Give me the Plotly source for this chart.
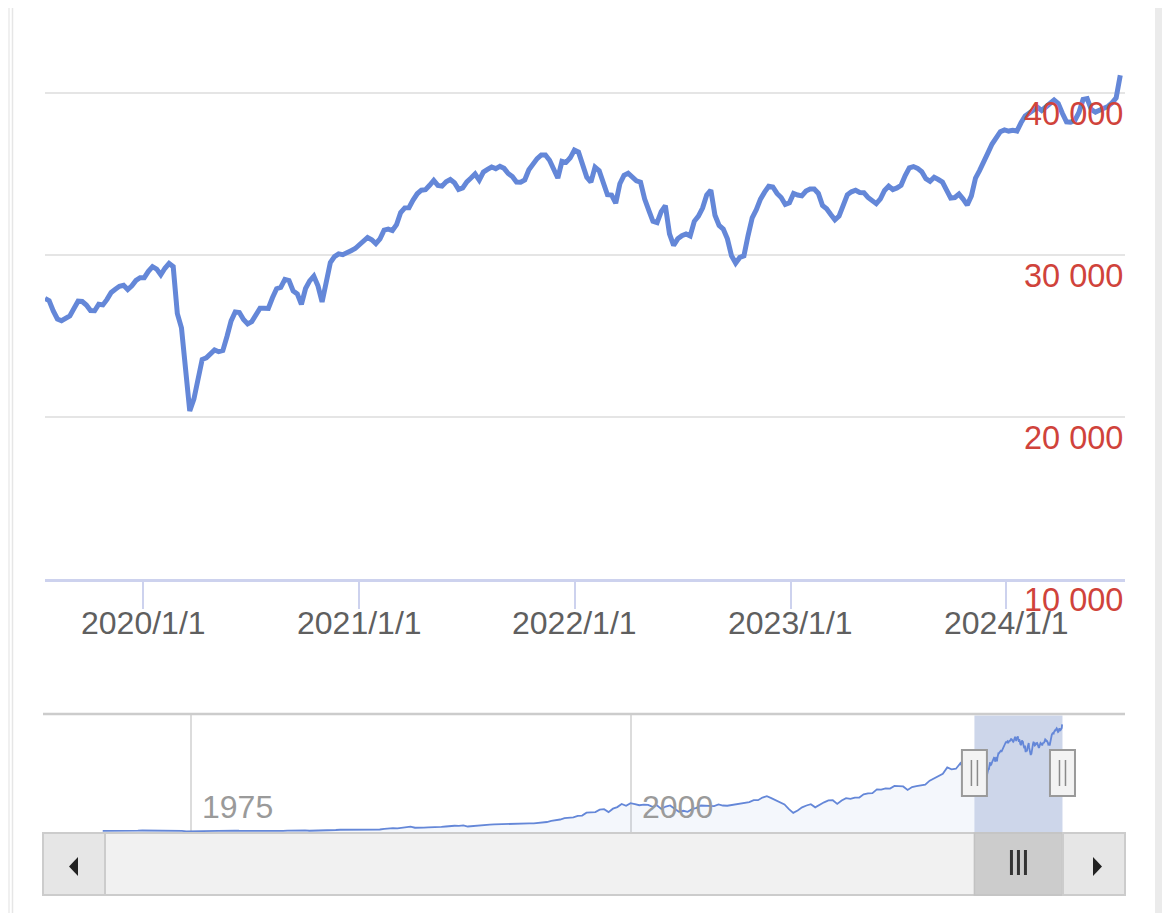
import pandas as pd
import plotly.graph_objects as go

W, H = 1170, 913
OFF = 8  # the page adds an 8px body margin around the figure

# weekly index values, Jul 2019 -> Jul 2024
week_start = "2019-07-19"
weekly_close = [
    27320, 27180, 26550, 26050, 25940, 26090, 26240, 26700, 27150, 27130,
    26910, 26570, 26560, 26960, 26920, 27260, 27690, 27890, 28070, 28130,
    27870, 28100, 28430, 28600, 28600, 28990, 29280, 29130, 28780, 29180,
    29480, 29280, 26380, 25500, 22700, 20370, 21100, 22300, 23550, 23650,
    23850, 24140, 24030, 24100, 24970, 25930, 26480, 26450, 26020, 25750,
    25890, 26310, 26710, 26720, 26700, 27360, 27920, 28000, 28490, 28420,
    27780, 27600, 26950, 27930, 28400, 28690, 28100, 27100, 28350, 29530,
    29900, 30070, 30020, 30190, 30270, 30400, 30640, 30930, 31080, 30940,
    30700, 31000, 31530, 31600, 31510, 31870, 32620, 32910, 32920, 33390,
    33780, 34000, 34030, 34300, 34600, 34300, 34250, 34520, 34660, 34460,
    34050, 34140, 34520, 34750, 35000, 34620, 35120, 35280, 35430, 35330,
    35470, 35350, 35030, 34840, 34500, 34490, 34630, 35260, 35650, 35950,
    36180, 36180, 35850, 35350, 34750, 35780, 35720, 36000, 36480, 36350,
    35680, 34800, 34500, 35420, 35200, 34400, 33720, 33700, 33200, 34400,
    34920, 35050, 34780, 34580, 34500, 33450, 32750, 32080, 32000, 32680,
    33050, 31300, 30600, 31000, 31190, 31300, 31180, 32080, 32400, 32900,
    33700, 34000, 32450, 31820, 31600, 31000, 29950, 29500, 29850, 29950,
    31200, 32300, 32800, 33450, 33880, 34240, 34200, 33800, 33550, 33120,
    33220, 33800, 33700, 33650, 33950, 34070, 34070, 33800, 33050, 32850,
    32500, 32170, 32400, 33180, 33720, 33900, 34000, 33860, 33850, 33550,
    33350, 33170, 33460, 33980, 34250, 34040, 34140, 34300, 34900, 35380,
    35460, 35350, 35140, 34710, 34550, 34800, 34660, 34500, 34000, 33520,
    33550, 33760, 33450, 33080, 33650, 34750, 35220, 35690, 36300, 36850,
    37290, 37610, 37720, 37650, 37700, 37650, 38160, 38580, 38770, 38960,
    39120, 38920, 39100, 39350, 39570, 39350, 38750, 38220, 38200, 38300,
    38800, 39600, 39650, 38980, 38820, 38930, 39030, 39170, 39390, 39700,
    41100,
]

# quarterly values for the overview strip, 1970 -> mid 2019
history_start = "1970-01-01"
history_quarterly = [
    800, 785, 700, 760, 840, 900, 890, 890, 890, 940, 930, 960,
    1020, 950, 890, 950, 850, 850, 800, 620, 650, 770, 870, 800,
    860, 990, 1000, 970, 1000, 920, 910, 850, 830, 760, 820, 870,
    820, 860, 840, 880, 840, 820, 870, 950, 950, 1000, 980, 850,
    870, 830, 810, 900, 1050, 1130, 1220, 1230, 1250, 1160, 1130, 1200,
    1210, 1270, 1330, 1330, 1550, 1820, 1880, 1770, 1900, 2300, 2420, 1990,
    1930, 2000, 2130, 2100, 2170, 2300, 2450, 2700, 2750, 2700, 2900, 2450,
    2630, 2910, 2980, 3020, 3170, 3240, 3320, 3270, 3300, 3440, 3520, 3560,
    3750, 3630, 3650, 3840, 3830, 4160, 4560, 4790, 5100, 5600, 5650, 5900,
    6450, 6600, 7700, 7900, 7900, 8800, 9000, 7900, 9200, 9800, 11000, 10300,
    11300, 10900, 10500, 10700, 10600, 9900, 10500, 9100, 10000, 10400, 9200, 8000,
    8400, 8000, 9000, 9500, 10400, 10400, 10400, 10200, 10800, 10400, 10300, 10600,
    10800, 11100, 11200, 11700, 12400, 12400, 13400, 13900, 13200, 12300, 11400, 10800,
    9000, 7600, 8500, 9700, 10400, 10900, 9700, 10800, 11600, 12300, 12400, 11000,
    12300, 13200, 12900, 13400, 13400, 14600, 15000, 15100, 16500, 16400, 16900, 16800,
    17800, 17700, 17600, 16300, 17400, 17700, 17900, 18300, 19800, 20700, 21400, 22400,
    24800, 24100, 24300, 26400, 23300, 25900, 26600,
]

x_tick_dates = ["2020-01-01", "2021-01-01", "2022-01-01", "2023-01-01", "2024-01-01"]
x_tick_text = ["2020/1/1", "2021/1/1", "2022/1/1", "2023/1/1", "2024/1/1"]
y_ticks = [10000, 20000, 30000, 40000]
nav_years = ["1975-01-01", "2000-01-01"]
nav_year_text = ["1975", "2000"]

view_start, view_end = "2019-07-19", "2024-07-20"
nav_start, nav_end = "1966-08-10", "2028-02-08"

BLUE = "#6487d8"
AXIS = "#cdd2ee"
RED = "#d0433b"
FONT = "Liberation Sans, Arial, sans-serif"

weekly_dates = pd.date_range(week_start, periods=len(weekly_close), freq="7D")
history_dates = pd.date_range(history_start, periods=len(history_quarterly), freq="QS")
nav_dates = list(history_dates) + list(weekly_dates)
nav_values = history_quarterly + weekly_close


def px(p):
    return (p - OFF) / W


def py(p):
    return 1 - (p - OFF) / H


fig = go.Figure()

fig.add_trace(go.Scatter(
    x=weekly_dates, y=weekly_close, mode="lines",
    line=dict(color=BLUE, width=5), xaxis="x", yaxis="y",
    hoverinfo="skip", showlegend=False,
))

# overview: light fill only outside of the selected window
fig.add_trace(go.Scatter(
    x=list(history_dates) + [weekly_dates[0]],
    y=history_quarterly + [weekly_close[0]],
    mode="lines", fill="tozeroy", fillcolor="rgba(100,135,216,0.07)",
    line=dict(width=0), xaxis="x2", yaxis="y2",
    hoverinfo="skip", showlegend=False,
))
fig.add_trace(go.Scatter(
    x=nav_dates, y=nav_values, mode="lines",
    line=dict(color=BLUE, width=1.8), xaxis="x2", yaxis="y2",
    hoverinfo="skip", showlegend=False,
))

annotations = []
for v in y_ticks:
    annotations.append(dict(
        x=px(1125), xref="paper", xanchor="right",
        y=v, yref="y", yanchor="top", yshift=-1,
        text=f"{v:,}".replace(",", " "), showarrow=False,
        font=dict(family=FONT, size=32.5, color=RED),
    ))
for d, t in zip(x_tick_dates, x_tick_text):
    annotations.append(dict(
        x=d, xref="x", xanchor="center",
        y=py(623), yref="paper", yanchor="middle",
        text=t, showarrow=False,
        font=dict(family=FONT, size=32, color="#5f5f5f"),
    ))
for d, t in zip(nav_years, nav_year_text):
    annotations.append(dict(
        x=d, xref="x2", xanchor="left", xshift=9,
        y=py(807), yref="paper", yanchor="middle",
        text=t, showarrow=False,
        font=dict(family=FONT, size=32, color="#9a9a9a"),
    ))

mid = pd.Timestamp(view_start) + (pd.Timestamp(view_end) - pd.Timestamp(view_start)) / 2

shapes = [
    # card frame
    dict(type="rect", xref="paper", yref="paper", x0=px(OFF), x1=px(10), y0=0, y1=1,
         fillcolor="#f0f0f0", line_width=0),
    dict(type="rect", xref="paper", yref="paper", x0=px(1155), x1=px(1162), y0=0, y1=1,
         fillcolor="#ebebeb", line_width=0),
    dict(type="line", xref="paper", yref="paper", x0=px(12.5), x1=px(12.5), y0=0, y1=1,
         line=dict(color="#e6e6e6", width=1.5)),
    # overview top rule
    dict(type="line", xref="paper", yref="paper", x0=px(43), x1=px(1125),
         y0=py(714), y1=py(714), line=dict(color="#cccccc", width=2.5)),
    # selected window
    dict(type="rect", xref="x2", yref="paper", x0=view_start, x1=view_end,
         y0=py(833), y1=py(715.5), fillcolor="#cdd6ea", line_width=0, layer="below"),
    # scrollbar track and buttons
    dict(type="rect", xref="paper", yref="paper", x0=px(43), x1=px(1125),
         y0=py(895), y1=py(833), fillcolor="#f1f1f1", line=dict(color="#cccccc", width=2)),
    dict(type="rect", xref="x2", yref="paper", x0=view_start, x1=view_end,
         y0=py(895), y1=py(833), fillcolor="#cccccc", line=dict(color="#c2c2c2", width=1.5)),
    dict(type="rect", xref="paper", yref="paper", x0=px(43), x1=px(105),
         y0=py(895), y1=py(833), fillcolor="#e6e6e6", line=dict(color="#cccccc", width=2)),
    dict(type="rect", xref="paper", yref="paper", x0=px(1063), x1=px(1125),
         y0=py(895), y1=py(833), fillcolor="#e6e6e6", line=dict(color="#cccccc", width=2)),
    dict(type="path", xref="paper", yref="paper",
         path=f"M {px(78)},{py(857)} L {px(78)},{py(876)} L {px(69)},{py(866.5)} Z",
         fillcolor="#222222", line_width=0),
    dict(type="path", xref="paper", yref="paper",
         path=f"M {px(1093)},{py(857)} L {px(1093)},{py(876)} L {px(1102)},{py(866.5)} Z",
         fillcolor="#222222", line_width=0),
]
for dx in (-7, 0, 7):
    shapes.append(dict(type="line", xref="x2", yref="paper", xsizemode="pixel",
                       xanchor=mid, x0=dx, x1=dx, y0=py(850), y1=py(875),
                       line=dict(color="#333333", width=3)))
for edge in (view_start, view_end):
    shapes.append(dict(type="rect", xref="x2", yref="paper", xsizemode="pixel",
                       xanchor=edge, x0=-12.5, x1=12.5, y0=py(796), y1=py(750),
                       fillcolor="#f3f3f3", line=dict(color="#9a9a9a", width=2)))
    for dx in (-3, 3):
        shapes.append(dict(type="line", xref="x2", yref="paper", xsizemode="pixel",
                           xanchor=edge, x0=dx, x1=dx, y0=py(786), y1=py(760),
                           line=dict(color="#8a8a8a", width=1.5)))

fig.update_layout(
    width=W, height=H, autosize=False,
    margin=dict(l=0, r=0, t=0, b=0),
    paper_bgcolor="white", plot_bgcolor="rgba(0,0,0,0)",
    font=dict(family=FONT),
    showlegend=False,
    xaxis=dict(
        domain=[px(45), px(1125)], anchor="y", type="date",
        range=[view_start, view_end],
        tickmode="array", tickvals=x_tick_dates, showticklabels=False,
        ticks="outside", ticklen=27, tickwidth=2, tickcolor=AXIS,
        showline=True, linecolor=AXIS, linewidth=3,
        showgrid=False, zeroline=False, fixedrange=True,
    ),
    yaxis=dict(
        domain=[py(579), py(12)], anchor="x", range=[10000, 45000],
        tickmode="array", tickvals=y_ticks[1:], showticklabels=False,
        gridcolor="#e5e5e5", gridwidth=2, zeroline=False, showline=False,
        fixedrange=True,
    ),
    xaxis2=dict(
        domain=[px(43), px(1125)], anchor="y2", type="date",
        range=[nav_start, nav_end],
        tickmode="array", tickvals=nav_years, showticklabels=False, ticks="",
        showgrid=True, gridcolor="#dcdcdc", gridwidth=1.5,
        zeroline=False, showline=False, fixedrange=True,
    ),
    yaxis2=dict(
        domain=[py(833), py(714)], anchor="x2", range=[0, 45000],
        showgrid=False, showticklabels=False, zeroline=False, showline=False,
        fixedrange=True,
    ),
    annotations=annotations,
    shapes=shapes,
)

fig.write_html("out.html")
